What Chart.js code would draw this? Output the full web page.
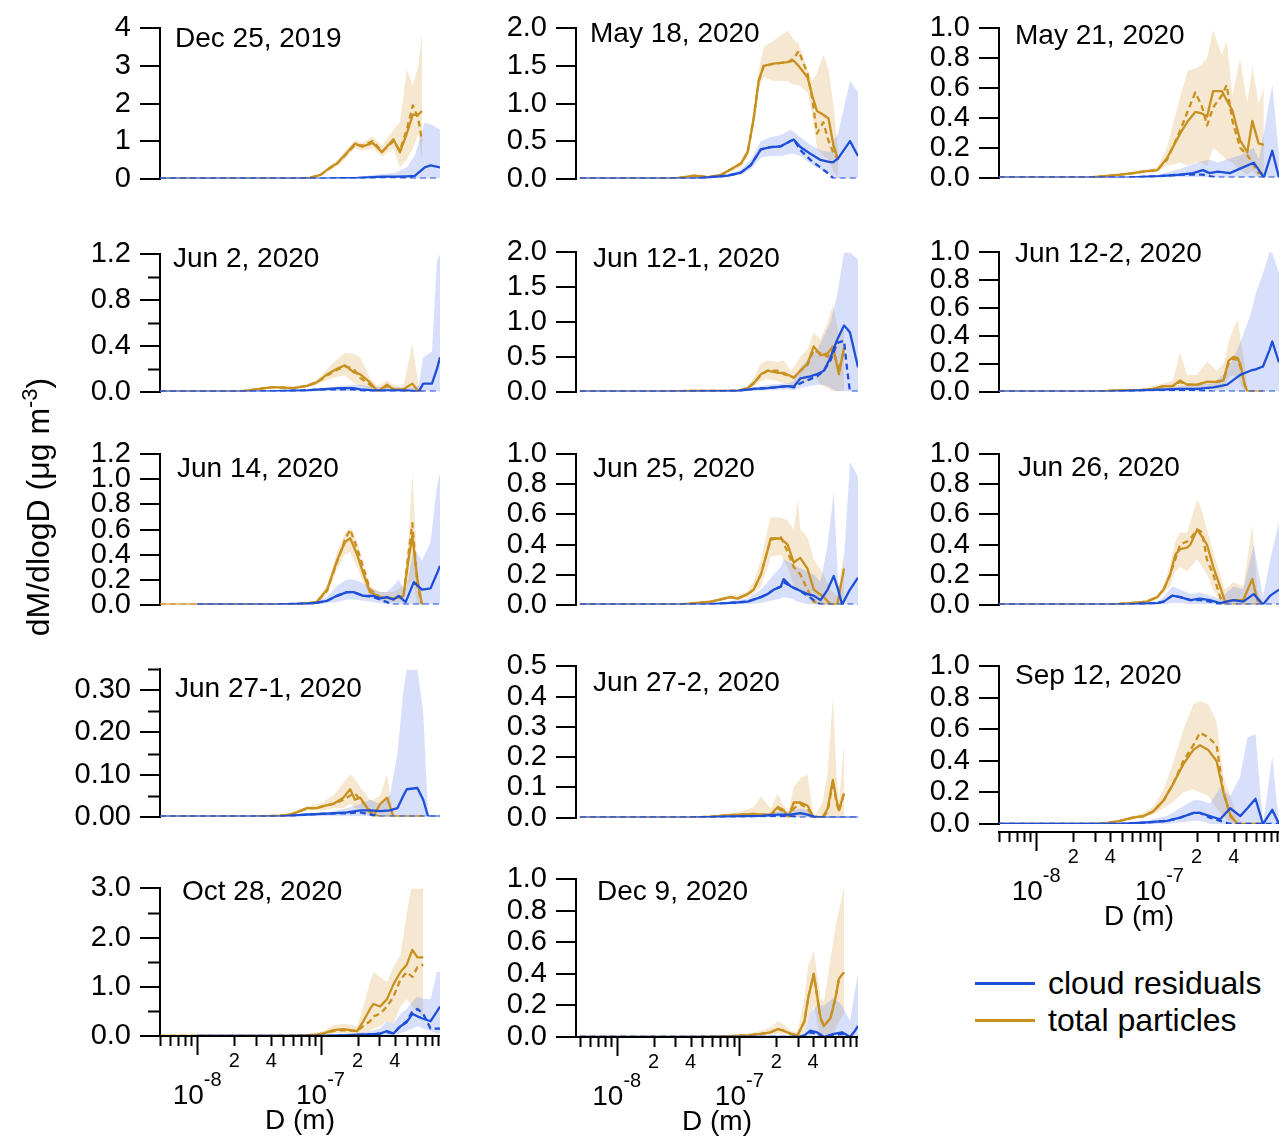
<!DOCTYPE html>
<html><head><meta charset="utf-8">
<script src="https://cdn.jsdelivr.net/npm/chart.js@4"></script>
<style>
body{margin:0;background:#fff}
#root{position:relative;width:1283px;height:1139px;overflow:hidden;font-family:'Liberation Sans',Arial,sans-serif;color:#000}
canvas{position:absolute}
.lbl{position:absolute;font-size:28px;line-height:32px;white-space:nowrap}
</style></head>
<body><div id="root"></div>
<script>
// ---------------- DATA (diameter in nm; rows = [D, mean, median, low, high]) ----------------
const PANEL_KEYS = ['dec25','may18','may21','jun2','jun121','jun122','jun14','jun25','jun26','jun271','jun272','sep12','oct28','dec9'];
const PANEL_LABELS = ['Dec 25, 2019','May 18, 2020','May 21, 2020','Jun 2, 2020','Jun 12-1, 2020','Jun 12-2, 2020','Jun 14, 2020','Jun 25, 2020','Jun 26, 2020','Jun 27-1, 2020','Jun 27-2, 2020','Sep 12, 2020','Oct 28, 2020','Dec 9, 2020'];
const Y_MAX   = [4, 2, 1, 1.2, 2, 1, 1.2, 1, 1, 0.35, 0.5, 1, 3, 1];
const Y_MAJOR = [1, 0.5, 0.2, 0.4, 0.5, 0.2, 0.2, 0.2, 0.2, 0.1, 0.1, 0.2, 1, 0.2];
const Y_MINOR = [0, 0, 0, 0.2, 0, 0, 0, 0, 0, 0.05, 0, 0, 0.5, 0];
const Y_DEC   = [0, 1, 1, 1, 1, 1, 1, 1, 1, 2, 1, 1, 1, 1];
const X_TICKS_MAJOR = [10, 100];
const X_TICKS_MINOR = [5, 6, 7, 8, 9, 20, 30, 40, 50, 60, 70, 80, 90, 200, 300, 400, 500, 600, 700, 800, 900];
const X_NUM_LABELS = [[20,'2'],[40,'4'],[200,'2'],[400,'4']];
const X_EXP_LABELS = [[10,'-8'],[100,'-7']];
const SERIES_NAMES = ['cloud residuals','total particles'];

const dec25_tot = [[5,0,0,0,0],[60,0,0,0,0],[82,0.02,0.02,0.01,0.03],[100,0.1,0.1,0.08,0.13],[120,0.3,0.28,0.25,0.35],[136,0.4,0.4,0.33,0.47],[165,0.7,0.68,0.6,0.8],[190,0.93,0.9,0.82,1.02],[218,0.85,0.88,0.74,0.95],[265,0.95,1.0,0.8,1.12],[315,0.7,0.72,0.58,0.88],[390,1.05,1.0,0.8,1.3],[440,0.7,0.75,0.3,1.5],[500,1.2,1.3,0.5,2.9],[560,1.7,1.95,0.8,2.5],[620,1.7,1.6,1.2,3.0],[665,1.8,1.0,0.5,3.85]];
const dec25_cld = [[5,0,0,0,0],[100,0,0,0,0],[200,0.02,0.01,0,0.05],[320,0.05,0.03,0,0.12],[400,0.05,0.03,0,0.15],[500,0.06,0.02,0,0.3],[580,0.07,0,0,0.6],[700,0.3,0,0,1.5],[780,0.35,0,0,1.45],[930,0.3,0,0,1.3]];

const may18_tot = [[5,0,0,0,0],[29,0,0,0,0],[43,0.04,0.04,0.03,0.05],[56,0.02,0.02,0.015,0.03],[71,0.05,0.05,0.04,0.07],[85,0.12,0.12,0.1,0.15],[103,0.2,0.2,0.15,0.23],[117,0.35,0.35,0.3,0.42],[131,0.8,0.8,0.7,0.9],[144,1.3,1.3,1.2,1.45],[158,1.5,1.5,1.35,1.75],[191,1.53,1.53,1.3,1.84],[248,1.55,1.55,1.3,1.97],[278,1.57,1.6,1.25,1.85],[305,1.5,1.7,1.25,1.8],[360,1.35,1.4,1.15,1.45],[395,1.1,1.05,0.85,1.3],[430,0.9,0.6,0.4,1.4],[485,0.85,0.75,0.3,1.65],[535,0.8,0.5,0.25,1.45],[585,0.45,0.35,0.1,1.0],[640,0.25,0.25,0,0.35]];
const may18_cld = [[5,0,0,0,0],[43,0,0,0,0],[81,0.04,0.04,0.03,0.06],[103,0.08,0.08,0.05,0.12],[124,0.18,0.18,0.12,0.25],[150,0.39,0.39,0.28,0.5],[180,0.42,0.42,0.3,0.55],[218,0.43,0.43,0.3,0.58],[262,0.5,0.5,0.33,0.65],[278,0.52,0.52,0.33,0.62],[315,0.42,0.38,0.3,0.55],[380,0.33,0.25,0.2,0.45],[457,0.25,0.15,0.12,0.38],[550,0.22,0.05,0.05,0.35],[585,0.22,0,0,0.5],[640,0.27,0,0,0.6],[800,0.5,0,0,1.3],[930,0.3,0,0,1.15]];

const may21_tot = [[5,0,0,0,0],[26,0,0,0,0],[48,0.02,0.02,0.015,0.025],[61,0.03,0.03,0.02,0.04],[73,0.04,0.04,0.03,0.05],[96,0.05,0.05,0.04,0.07],[115,0.13,0.12,0.08,0.2],[148,0.3,0.32,0.1,0.55],[170,0.38,0.45,0.08,0.72],[195,0.44,0.57,0.1,0.73],[220,0.43,0.48,0.1,0.76],[243,0.41,0.35,0.08,0.8],[272,0.58,0.47,0.2,0.99],[320,0.58,0.55,0.15,0.82],[350,0.52,0.62,0.12,0.92],[390,0.45,0.38,0.1,0.55],[450,0.25,0.2,0.05,0.8],[515,0.17,0.15,0.02,0.5],[565,0.38,0.1,0.05,0.75],[635,0.23,0.03,0,0.5],[700,0.22,0.03,0,0.6]];
const may21_cld = [[5,0,0,0,0],[54,0,0,0,0],[100,0.01,0.01,0,0.02],[148,0.02,0.02,0,0.06],[187,0.03,0.02,0,0.09],[225,0.05,0.02,0,0.11],[255,0.03,0.01,0,0.12],[297,0.04,0,0,0.1],[372,0.03,0,0,0.13],[450,0.06,0,0,0.15],[580,0.1,0,0,0.2],[640,0.05,0,0,0.12],[700,0,0,0,0.3],[820,0.18,0,0,0.62],[930,0,0,0,0.15]];

const jun2_tot = [[5,0,0,0,0],[22,0,0,0,0],[41,0.04,0.04,0.03,0.05],[60,0.03,0.03,0.02,0.04],[78,0.05,0.05,0.04,0.07],[93,0.08,0.08,0.06,0.1],[113,0.15,0.14,0.1,0.2],[136,0.2,0.19,0.13,0.28],[158,0.23,0.22,0.14,0.34],[185,0.17,0.2,0.08,0.33],[210,0.15,0.12,0.05,0.3],[252,0.08,0.06,0.02,0.12],[290,0,0,0,0.05],[346,0.06,0.05,0,0.1],[390,0.02,0.02,0,0.06],[470,0.02,0,0,0.05],[555,0.07,0,0,0.42],[625,0,0,0,0.05],[680,0,0,0,0]];
const jun2_cld = [[5,0,0,0,0],[30,0,0,0,0],[78,0.01,0.01,0,0.02],[100,0.02,0.02,0,0.03],[144,0.03,0.02,0,0.05],[185,0.03,0.02,0,0.06],[210,0.02,0.01,0,0.06],[268,0.01,0,0,0.04],[390,0.01,0,0,0.04],[500,0.01,0,0,0.03],[625,0,0,0,0.05],[680,0.07,0,0,0.3],[800,0.07,0,0,0.35],[880,0.2,0,0,1.15],[930,0.3,0,0,1.2]];

const jun121_tot = [[5,0,0,0,0],[23,0,0,0,0],[40,0.01,0.01,0.005,0.015],[97,0.01,0.01,0.005,0.02],[117,0.05,0.05,0.03,0.07],[131,0.12,0.12,0.08,0.2],[150,0.25,0.24,0.15,0.4],[170,0.3,0.3,0.18,0.45],[206,0.27,0.3,0.15,0.42],[230,0.27,0.25,0.12,0.45],[264,0.22,0.22,0.1,0.3],[278,0.2,0.2,0.08,0.35],[315,0.3,0.3,0.1,0.5],[360,0.4,0.38,0.15,0.6],[405,0.65,0.6,0.25,0.85],[460,0.52,0.55,0.1,0.75],[526,0.55,0.5,0.05,1.0],[580,0.65,0.62,0,1.25],[650,0.25,0.3,0,0.8],[715,0.63,0.6,0,0.9]];
const jun121_cld = [[5,0,0,0,0],[40,0,0,0,0],[97,0.01,0.01,0,0.03],[131,0.04,0.04,0.01,0.06],[170,0.05,0.05,0.02,0.1],[248,0.08,0.08,0.03,0.12],[278,0.07,0.06,0.02,0.14],[315,0.19,0.12,0.05,0.35],[380,0.22,0.18,0.08,0.5],[430,0.25,0.22,0.1,0.6],[490,0.3,0.3,0.1,0.8],[555,0.49,0.45,0.05,1.0],[630,0.75,0.7,0,1.4],[715,0.95,0.73,0,2.0],[760,0.9,0.3,0,2.0],[800,0.85,0,0,2.0],[930,0.35,0,0,1.9]];

const jun122_tot = [[5,0,0,0,0],[30,0,0,0,0],[48,0.01,0.01,0.005,0.015],[70,0.01,0.01,0.005,0.02],[89,0.02,0.02,0.01,0.04],[108,0.04,0.04,0.02,0.06],[128,0.04,0.04,0.02,0.08],[147,0.08,0.07,0.02,0.28],[167,0.05,0.05,0.02,0.12],[202,0.05,0.05,0.02,0.12],[242,0.07,0.07,0.02,0.22],[290,0.07,0.07,0.02,0.15],[330,0.08,0.08,0.02,0.2],[362,0.22,0.2,0.1,0.35],[397,0.25,0.24,0.12,0.45],[430,0.24,0.22,0.1,0.52],[451,0.2,0.18,0.05,0.4],[490,0.05,0.05,0,0.2],[516,0,0,0,0],[690,0,0,0,0]];
const jun122_cld = [[5,0,0,0,0],[40,0,0,0,0],[79,0.01,0.01,0,0.02],[147,0.02,0.01,0,0.04],[202,0.02,0.01,0,0.05],[273,0.03,0,0,0.06],[354,0.05,0,0,0.15],[451,0.12,0,0,0.35],[545,0.15,0,0,0.55],[600,0.16,0,0,0.7],[690,0.18,0,0,0.85],[780,0.3,0,0,1.0],[820,0.36,0,0,1.0],[930,0.21,0,0,0.85]];

const jun14_tot = [[5,0,0,0,0],[57,0,0,0,0],[78,0.01,0.01,0.005,0.015],[93,0.02,0.02,0.01,0.03],[113,0.12,0.11,0.08,0.15],[136,0.35,0.34,0.28,0.42],[158,0.5,0.52,0.4,0.57],[174,0.53,0.6,0.42,0.62],[198,0.4,0.45,0.3,0.5],[222,0.25,0.3,0.18,0.32],[252,0.1,0.12,0.06,0.15],[304,0.06,0.06,0.03,0.1],[390,0.05,0.05,0.02,0.1],[470,0.07,0.06,0.02,0.15],[515,0.35,0.4,0.15,0.5],[555,0.55,0.65,0.2,1.06],[610,0.2,0.15,0,0.3],[665,0,0,0,0]];
const jun14_cld = [[10,0,0,0,0],[41,0,0,0,0],[87,0.01,0.01,0,0.02],[113,0.03,0.03,0.01,0.06],[136,0.07,0.07,0.02,0.15],[164,0.1,0.1,0.04,0.2],[185,0.1,0.1,0.04,0.2],[222,0.07,0.07,0.03,0.17],[268,0.07,0.06,0.02,0.12],[304,0.05,0.04,0.01,0.1],[346,0.06,0.02,0,0.1],[390,0.04,0,0,0.15],[430,0.07,0,0,0.2],[490,0.02,0,0,0.1],[570,0.18,0,0,0.45],[665,0.12,0,0,0.35],[780,0.13,0,0,0.5],[880,0.25,0,0,0.95],[930,0.31,0,0,1.05]];

const jun25_tot = [[5,0,0,0,0],[32,0,0,0,0],[43,0.01,0.01,0.005,0.015],[59,0.02,0.02,0.01,0.03],[75,0.04,0.04,0.03,0.05],[85,0.05,0.05,0.04,0.07],[97,0.04,0.04,0.03,0.06],[117,0.07,0.07,0.05,0.09],[131,0.1,0.1,0.07,0.15],[150,0.2,0.2,0.12,0.3],[170,0.36,0.36,0.25,0.5],[180,0.44,0.43,0.32,0.58],[218,0.44,0.45,0.33,0.58],[248,0.4,0.35,0.25,0.56],[278,0.28,0.25,0.12,0.5],[300,0.3,0.22,0.1,0.7],[315,0.31,0.2,0.1,0.5],[360,0.24,0.1,0.05,0.45],[405,0.1,0.02,0,0.3],[490,0.05,0,0,0.2],[555,0,0,0,0.1],[630,0,0,0,0.05],[715,0.24,0,0,0.35]];
const jun25_cld = [[5,0,0,0,0],[50,0,0,0,0],[81,0.01,0.01,0,0.02],[117,0.02,0.02,0,0.04],[150,0.05,0.05,0.01,0.1],[170,0.07,0.07,0.02,0.15],[191,0.1,0.1,0.03,0.2],[218,0.12,0.12,0.04,0.25],[230,0.17,0.15,0.05,0.3],[264,0.12,0.12,0.04,0.28],[298,0.1,0.1,0.02,0.25],[360,0.07,0.06,0,0.22],[405,0.06,0.03,0,0.2],[460,0.03,0,0,0.15],[526,0.1,0,0,0.4],[590,0.19,0,0,0.75],[640,0.1,0,0,0.15],[690,0,0,0,0.1],[800,0.1,0,0,0.95],[930,0.18,0,0,0.85]];

const jun26_tot = [[5,0,0,0,0],[40,0,0,0,0],[58,0.01,0.01,0.005,0.015],[79,0.02,0.02,0.01,0.03],[96,0.05,0.05,0.04,0.06],[108,0.1,0.1,0.08,0.13],[122,0.2,0.2,0.12,0.27],[134,0.33,0.3,0.22,0.42],[147,0.37,0.4,0.25,0.48],[167,0.38,0.42,0.22,0.48],[178,0.4,0.44,0.25,0.55],[202,0.5,0.5,0.3,0.7],[222,0.45,0.48,0.25,0.62],[242,0.4,0.3,0.2,0.5],[273,0.25,0.2,0.1,0.35],[310,0.12,0.05,0.02,0.2],[340,0.02,0,0,0.1],[397,0.03,0,0,0.15],[477,0.03,0,0,0.12],[565,0.17,0,0,0.53],[620,0.03,0,0,0.1],[690,0,0,0,0]];
const jun26_cld = [[5,0,0,0,0],[50,0,0,0,0],[96,0.01,0.01,0,0.02],[108,0.02,0.02,0,0.05],[127,0.06,0.06,0.01,0.12],[147,0.05,0.05,0.01,0.1],[178,0.03,0.03,0,0.07],[212,0.04,0.03,0,0.08],[256,0.03,0.02,0,0.06],[310,0.01,0,0,0.04],[397,0.03,0,0,0.12],[477,0.02,0,0,0.1],[580,0.07,0,0,0.4],[690,0,0,0,0.05],[790,0.06,0,0,0.3],[930,0.1,0,0,0.55]];

const jun271_tot = [[5,0,0,0,0],[27,0,0,0,0],[47,0.002,0.002,0.001,0.004],[57,0.005,0.005,0.003,0.008],[64,0.01,0.01,0.006,0.015],[78,0.02,0.02,0.015,0.025],[93,0.02,0.02,0.015,0.028],[105,0.025,0.025,0.015,0.035],[127,0.03,0.03,0.02,0.05],[153,0.045,0.04,0.02,0.08],[174,0.065,0.05,0.03,0.1],[190,0.04,0.055,0.02,0.09],[210,0.045,0.04,0.02,0.07],[252,0.01,0.015,0,0.04],[268,0,0.005,0,0.04],[304,0.03,0,0,0.05],[346,0.045,0,0,0.1],[390,0,0,0,0],[690,0,0,0,0]];
const jun271_cld = [[5,0,0,0,0],[47,0,0,0,0],[78,0.005,0.005,0,0.008],[113,0.007,0.007,0,0.01],[164,0.01,0.008,0,0.02],[210,0.015,0.01,0,0.03],[252,0.015,0.005,0,0.04],[304,0.013,0,0,0.03],[365,0.015,0,0,0.05],[420,0.02,0,0,0.15],[470,0.05,0,0,0.3],[500,0.065,0,0,0.35],[610,0.068,0,0,0.35],[680,0.04,0,0,0.25],[745,0,0,0,0],[930,0,0,0,0]];

const jun272_tot = [[5,0,0,0,0],[40,0,0,0,0],[59,0.003,0.003,0,0.005],[81,0.008,0.008,0.003,0.012],[103,0.01,0.01,0.004,0.02],[131,0.012,0.012,0.005,0.035],[150,0.01,0.01,0.003,0.07],[180,0.01,0.01,0.002,0.03],[206,0.035,0.03,0.005,0.08],[230,0.025,0.02,0,0.04],[252,0,0.005,0,0.02],[278,0.05,0.03,0,0.1],[315,0.05,0.045,0,0.13],[360,0.04,0.03,0,0.144],[405,0,0,0,0],[477,0,0,0,0.05],[526,0.03,0.02,0,0.15],[580,0.125,0.12,0,0.4],[620,0.06,0.05,0,0.15],[650,0.025,0.02,0,0.05],[715,0.08,0.08,0,0.24]];
const jun272_cld = [[5,0,0,0,0],[40,0,0,0,0],[81,0.003,0.003,0,0.005],[150,0.006,0.005,0,0.01],[206,0.01,0.005,0,0.02],[264,0.01,0.005,0,0.02],[315,0.015,0,0,0.03],[360,0.01,0,0,0.025],[405,0.003,0,0,0.01],[477,0,0,0,0],[930,0,0,0,0]];

const sep12_tot = [[5,0,0,0,0],[29,0,0,0,0],[37,0.005,0.005,0.003,0.008],[48,0.02,0.02,0.015,0.03],[61,0.04,0.04,0.03,0.05],[74,0.05,0.05,0.04,0.07],[89,0.08,0.08,0.06,0.11],[108,0.15,0.15,0.1,0.22],[128,0.25,0.25,0.14,0.38],[156,0.38,0.4,0.2,0.6],[188,0.47,0.5,0.22,0.76],[213,0.5,0.58,0.2,0.78],[248,0.47,0.55,0.18,0.76],[290,0.4,0.5,0.1,0.65],[330,0.2,0.2,0.05,0.3],[374,0.06,0.05,0,0.18],[425,0,0,0,0.05],[477,0,0,0,0],[690,0,0,0,0]];
const sep12_cld = [[5,0,0,0,0],[48,0,0,0,0],[79,0.01,0.01,0,0.02],[115,0.02,0.02,0,0.05],[147,0.04,0.04,0.01,0.1],[188,0.07,0.07,0.02,0.15],[213,0.07,0.07,0.02,0.15],[256,0.05,0.04,0,0.13],[310,0.03,0.02,0,0.23],[374,0.1,0,0,0.18],[451,0.05,0,0,0.3],[516,0.1,0,0,0.55],[600,0.16,0,0,0.57],[690,0,0,0,0],[820,0.09,0,0,0.43],[930,0,0,0,0]];

const oct28_tot = [[5,0,0,0,0],[57,0,0,0,0],[87,0.02,0.02,0,0.05],[105,0.05,0.05,0.02,0.1],[127,0.12,0.1,0.05,0.22],[153,0.14,0.12,0.06,0.25],[198,0.1,0.1,0.02,0.2],[222,0.3,0.2,0.05,0.6],[252,0.55,0.3,0.1,1.1],[268,0.65,0.4,0.15,1.3],[304,0.6,0.45,0.2,1.2],[346,0.75,0.6,0.3,1.1],[390,1.05,0.8,0.25,1.4],[445,1.3,1.15,0.6,1.65],[500,1.45,1.3,0.75,2.5],[555,1.75,1.2,0.6,3.15],[610,1.6,1.4,0.5,3.1],[680,1.6,1.45,0.4,3.2]];
const oct28_cld = [[10,0,0,0,0],[100,0,0,0,0],[144,0.01,0.01,0,0.02],[238,0.03,0.03,0,0.08],[304,0.05,0.05,0,0.15],[346,0.1,0.08,0,0.3],[390,0.05,0.05,0,0.25],[445,0.2,0.2,0.05,0.45],[500,0.28,0.3,0.1,0.55],[555,0.45,0.5,0.15,0.7],[610,0.4,0.55,0.2,0.8],[680,0.35,0.45,0.15,0.75],[780,0.3,0.15,0.1,0.75],[880,0.5,0.15,0.05,1.3],[930,0.6,0.15,0.05,1.3]];

const dec9_tot = [[5,0,0,0,0],[40,0,0,0,0],[81,0.005,0.005,0,0.01],[117,0.01,0.01,0.005,0.02],[150,0.02,0.02,0.01,0.04],[180,0.03,0.03,0.015,0.06],[206,0.05,0.05,0.02,0.1],[230,0.04,0.04,0.02,0.08],[264,0.02,0.02,0.01,0.04],[298,0.01,0.01,0,0.03],[340,0.1,0.1,0.02,0.25],[365,0.25,0.25,0.1,0.45],[405,0.4,0.4,0.2,0.55],[460,0.12,0.12,0,0.25],[490,0.07,0.07,0,0.22],[555,0.12,0.12,0,0.5],[610,0.25,0.25,0.05,0.7],[650,0.37,0.37,0.1,0.8],[715,0.41,0.41,0.15,0.95]];
const dec9_cld = [[5,0,0,0,0],[300,0,0,0,0],[340,0.01,0.01,0,0.02],[380,0.04,0.03,0,0.15],[430,0.03,0.02,0,0.2],[490,0,0,0,0.2],[590,0.02,0.01,0,0.25],[690,0.03,0.02,0,0.2],[800,0,0,0,0.1],[880,0.04,0,0,0.3],[930,0.07,0,0,0.4]];

const PANEL_DATA = {
  dec25:[dec25_tot,dec25_cld], may18:[may18_tot,may18_cld], may21:[may21_tot,may21_cld],
  jun2:[jun2_tot,jun2_cld], jun121:[jun121_tot,jun121_cld], jun122:[jun122_tot,jun122_cld],
  jun14:[jun14_tot,jun14_cld], jun25:[jun25_tot,jun25_cld], jun26:[jun26_tot,jun26_cld],
  jun271:[jun271_tot,jun271_cld], jun272:[jun272_tot,jun272_cld], sep12:[sep12_tot,sep12_cld],
  oct28:[oct28_tot,oct28_cld], dec9:[dec9_tot,dec9_cld]
};

// ---------------- LAYOUT / STYLE ----------------
const GEOM = {
  dec25:[160,440,24,185], may18:[576,858,24,184.5], may21:[999,1279,24,184],
  jun2:[160,440,250,398.3], jun121:[576,858,248.3,398.3], jun122:[999,1279,248.3,398.3],
  jun14:[160,440,450,611], jun25:[576,858,450,611], jun26:[999,1279,450,611],
  jun271:[160,440,665,823.3], jun272:[576,858,661.7,823.3], sep12:[999,1279,661.7,823.3],
  oct28:[160,440,884.3,1036.7], dec9:[576,858,875,1036.7]
};
const XMIN = {col1:5, col2:4.65, col3:5};
const XMAX = 930;
const XAXIS_OFFSET = {sep12:8, oct28:0, dec9:0};
const TITLE_POS = {
  dec25:[175,38], may18:[590,33], may21:[1015,35], jun2:[173,258], jun121:[593,258], jun122:[1015,253],
  jun14:[177,468], jun25:[593,468], jun26:[1018,467], jun271:[175,688], jun272:[593,682], sep12:[1015,675],
  oct28:[182,891], dec9:[597,891]
};
const GOLD = '#C8901F', BLUE = '#1E4FD9';
const GOLD_BAND = 'rgba(226,180,100,0.30)', BLUE_BAND = 'rgba(100,130,235,0.26)';
const FONT = "'Liberation Sans', Arial, sans-serif";
const TICK_FONT = 29, LINE_W = 2.3;
Chart.defaults.font.family = FONT;

const root = document.getElementById('root');
const PADL = 130, PADT = 22, PADR = 6;

PANEL_KEYS.forEach((key, i) => {
  const [L, R, T, B] = GEOM[key];
  const hasX = key in XAXIS_OFFSET;
  const PADB = hasX ? 115 : 20;
  const W = Math.round(R - L + PADL + PADR);
  const H = Math.round(B - T + PADT + PADB);
  const cv = document.createElement('canvas');
  cv.width = W; cv.height = H;
  cv.style.width = W + 'px'; cv.style.height = H + 'px';
  cv.style.left = (L - PADL) + 'px'; cv.style.top = (T - PADT) + 'px';
  root.appendChild(cv);

  const xmin = L < 300 ? XMIN.col1 : (L < 800 ? XMIN.col2 : XMIN.col3);
  const [tot, cld] = PANEL_DATA[key];
  const pts = (rows, k) => rows.map(r => ({x: r[0], y: r[k]}));
  const band = (rows, k, fill, bg, order) => ({data: pts(rows, k), fill: fill, backgroundColor: bg, borderColor: 'transparent', borderWidth: 0, pointRadius: 0, tension: 0, order: order});
  const line = (rows, k, color, dash, order, label) => ({label: label, data: pts(rows, k), fill: false, borderColor: color, borderWidth: LINE_W, borderDash: dash, pointRadius: 0, tension: 0, order: order, borderCapStyle: 'butt', borderJoinStyle: 'round'});

  const datasets = [
    band(tot, 4, '+1', GOLD_BAND, 8),
    band(tot, 3, false, 'transparent', 7),
    band(cld, 4, '+1', BLUE_BAND, 6),
    band(cld, 3, false, 'transparent', 5),
    line(tot, 2, GOLD, [6, 4], 4, SERIES_NAMES[1] + ' median'),
    line(tot, 1, GOLD, [], 3, SERIES_NAMES[1]),
    line(cld, 2, BLUE, [6, 4], 2, SERIES_NAMES[0] + ' median'),
    line(cld, 1, BLUE, [], 1, SERIES_NAMES[0])
  ];

  const ymax = Y_MAX[i], major = Y_MAJOR[i], minor = Y_MINOR[i], dec = Y_DEC[i];
  const nMaj = Math.floor(ymax / major + 1e-6);
  const majors = [];
  for (let k = 0; k <= nMaj; k++) majors.push(+(k * major).toFixed(4));

  const axisPlugin = {
    id: 'axisDeco' + i,
    afterDraw(chart) {
      const ctx = chart.ctx, a = chart.chartArea, xs = chart.scales.x, ys = chart.scales.y;
      ctx.save();
      ctx.strokeStyle = '#000'; ctx.lineWidth = 2;
      if (minor) {
        const n = Math.floor(ymax / minor + 1e-6);
        for (let k = 0; k <= n; k++) {
          const v = k * minor;
          const r = v / major;
          if (Math.abs(r - Math.round(r)) < 1e-6) continue;
          const py = Math.round(ys.getPixelForValue(v)) + 0.5;
          ctx.beginPath(); ctx.moveTo(a.left - 12, py); ctx.lineTo(a.left, py); ctx.stroke();
        }
      }
      if (hasX) {
        const y0 = ys.getPixelForValue(0) + XAXIS_OFFSET[key];
        ctx.beginPath(); ctx.moveTo(a.left - 1, y0); ctx.lineTo(a.right, y0); ctx.stroke();
        X_TICKS_MINOR.forEach(v => {
          const px = Math.round(xs.getPixelForValue(v)) + 0.5;
          ctx.beginPath(); ctx.moveTo(px, y0); ctx.lineTo(px, y0 + 10); ctx.stroke();
        });
        X_TICKS_MAJOR.forEach(v => {
          const px = Math.round(xs.getPixelForValue(v)) + 0.5;
          ctx.beginPath(); ctx.moveTo(px, y0); ctx.lineTo(px, y0 + 19); ctx.stroke();
        });
        ctx.fillStyle = '#000'; ctx.textBaseline = 'middle';
        ctx.textAlign = 'center';
        ctx.font = '20px ' + FONT;
        X_NUM_LABELS.forEach(([v, t]) => ctx.fillText(t, xs.getPixelForValue(v), y0 + 25));
        X_EXP_LABELS.forEach(([v, e]) => {
          const px = xs.getPixelForValue(v);
          ctx.font = '28px ' + FONT; const w1 = ctx.measureText('10').width;
          ctx.font = '20px ' + FONT; const w2 = ctx.measureText(e).width;
          const x0 = px - (w1 + w2) / 2;
          ctx.textAlign = 'left';
          ctx.font = '28px ' + FONT; ctx.fillText('10', x0, y0 + 60);
          ctx.font = '20px ' + FONT; ctx.fillText(e, x0 + w1, y0 + 44);
        });
        ctx.textAlign = 'center';
        ctx.font = '28px ' + FONT;
        ctx.fillText('D (m)', (a.left + a.right) / 2, y0 + 85);
      }
      ctx.restore();
    }
  };

  new Chart(cv, {
    type: 'line',
    data: {datasets},
    options: {
      responsive: false, animation: false, maintainAspectRatio: false,
      layout: {padding: {left: 0, right: PADR, top: PADT, bottom: PADB}},
      plugins: {legend: {display: false}, tooltip: {enabled: false}, filler: {propagate: false}},
      scales: {
        x: {type: 'logarithmic', min: xmin, max: XMAX, display: false},
        y: {
          type: 'linear', min: 0, max: ymax,
          afterFit: s => { s.width = PADL; },
          afterBuildTicks: s => { s.ticks = majors.map(v => ({value: v})); },
          ticks: {callback: v => Number(v).toFixed(dec), color: '#000', padding: 9, autoSkip: false, font: {size: TICK_FONT, family: FONT}},
          grid: {drawOnChartArea: false, drawTicks: true, tickLength: 20, color: '#000', lineWidth: 2},
          border: {display: true, color: '#000', width: 2}
        }
      }
    },
    plugins: [axisPlugin]
  });

  const t = document.createElement('div');
  t.className = 'lbl';
  t.textContent = PANEL_LABELS[i];
  t.style.left = TITLE_POS[key][0] + 'px';
  t.style.top = (TITLE_POS[key][1] - 16) + 'px';
  root.appendChild(t);
});

// y-axis title
const yt = document.createElement('div');
yt.className = 'lbl';
yt.style.width = '440px'; yt.style.textAlign = 'center';
yt.style.fontSize = '32px'; yt.style.lineHeight = '36px';
yt.style.left = (40 - 220) + 'px'; yt.style.top = (505 - 18) + 'px';
yt.style.transform = 'rotate(-90deg)';
yt.innerHTML = 'dM/dlogD (\u03bcg m<sup style="font-size:22px;vertical-align:0;position:relative;top:-12px">-3</sup>)';
root.appendChild(yt);

// legend
[[SERIES_NAMES[0], BLUE, 983], [SERIES_NAMES[1], GOLD, 1020]].forEach(([name, col, y]) => {
  const ln = document.createElement('div');
  ln.style.cssText = 'position:absolute;left:975px;width:60px;height:2.5px;background:' + col + ';top:' + (y - 1) + 'px';
  root.appendChild(ln);
  const tx = document.createElement('div');
  tx.className = 'lbl';
  tx.style.fontSize = '32px'; tx.style.lineHeight = '36px';
  tx.style.left = '1048px'; tx.style.top = (y - 18) + 'px';
  tx.textContent = name;
  root.appendChild(tx);
});
</script>
</body></html>
